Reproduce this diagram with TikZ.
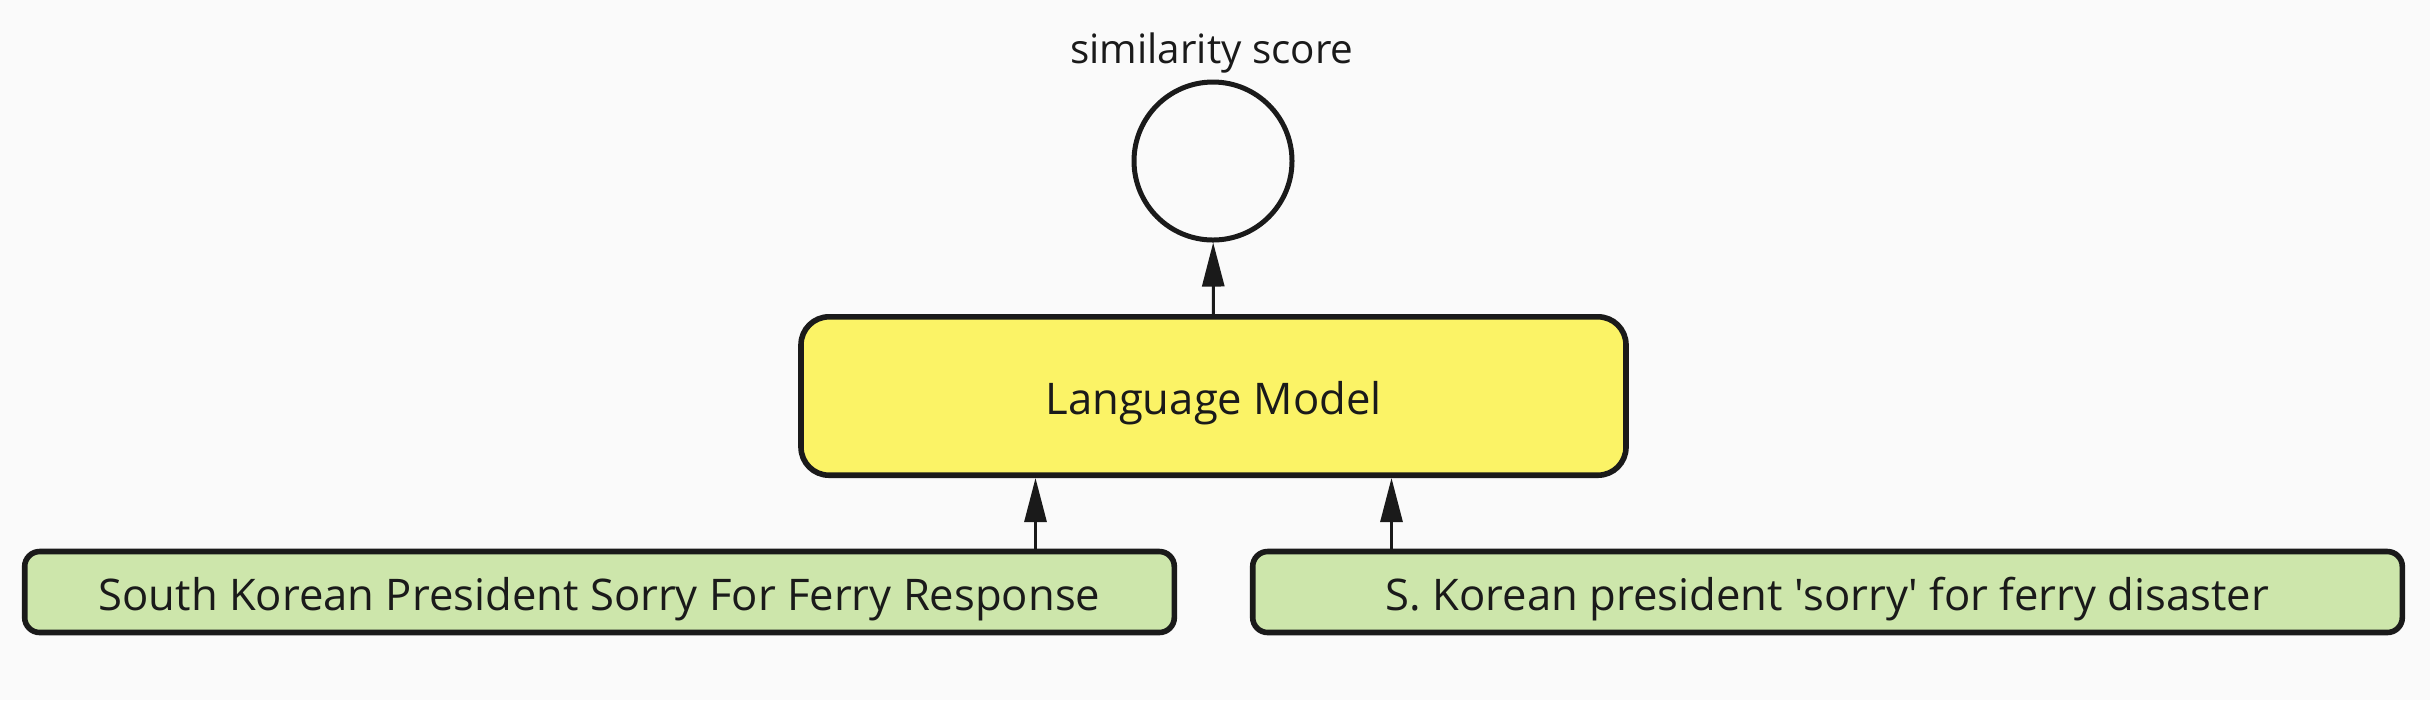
\documentclass[tikz,border=0pt]{standalone}
\usepackage{fontspec}
\setmainfont{Open Sans}
\usetikzlibrary{arrows.meta}
\definecolor{bgcol}{HTML}{FAFAFA}
\definecolor{inkcol}{HTML}{1A1A1A}
\definecolor{lmyellow}{HTML}{FBF366}
\definecolor{sentgreen}{HTML}{CDE6AB}
\newcommand{\armoff}{178}
\newcommand{\lmw}{206.25pt}
\newcommand{\lmh}{39.6pt}
\newcommand{\sentw}{287.4pt}
\newcommand{\senth}{20.25pt}

\begin{document}
\begin{tikzpicture}[x=0.25pt,y=-0.25pt,font=\fontsize{10.9}{13}\selectfont,text=inkcol,
	lmbox/.style={draw=inkcol,line width=1.4pt,fill=lmyellow,rounded corners=7pt,minimum width=\lmw,minimum height=\lmh,inner sep=0pt,text height=11pt,text depth=2pt},
	sentbox/.style={draw=inkcol,line width=1.4pt,fill=sentgreen,rounded corners=3.75pt,minimum width=\sentw,minimum height=\senth,inner sep=0pt,text height=11pt,text depth=2pt},
	scorenode/.style={draw=inkcol,line width=1.25pt,circle,minimum size=39.5pt,inner sep=0pt},
	arr/.style={-{Triangle[length=11pt,width=5.5pt]},line width=.75pt,draw=inkcol}]
	%The background and the size of the page
	\fill[bgcol] (0,0) rectangle (2430,700);
	\useasboundingbox (0,0) rectangle (2430,700);
	%Draw the model, the score and the two sentences
	\node[lmbox] (lm) at (1213.5,396) {Language Model};
	\node[scorenode] (score) at (1213,161) {};
	\node[anchor=base,font=\fontsize{10.1}{12}\selectfont] (scorelabel) at (1212,63) {similarity score};
	\node[sentbox] (sentA) at (599.5,592) {South Korean President Sorry For Ferry Response};
	\node[sentbox] (sentB) at (1827.5,592) {S. Korean president \textquotesingle sorry\textquotesingle{} for ferry disaster};
	%Draw the arrows into and out of the model
	\draw[arr] (lm) -- (score);
	\draw[arr] ([xshift=-\armoff*0.25pt]lm.south |- sentA.north) -- ([xshift=-\armoff*0.25pt]lm.south);
	\draw[arr] ([xshift=\armoff*0.25pt]lm.south |- sentB.north) -- ([xshift=\armoff*0.25pt]lm.south);
\end{tikzpicture}
\end{document}
